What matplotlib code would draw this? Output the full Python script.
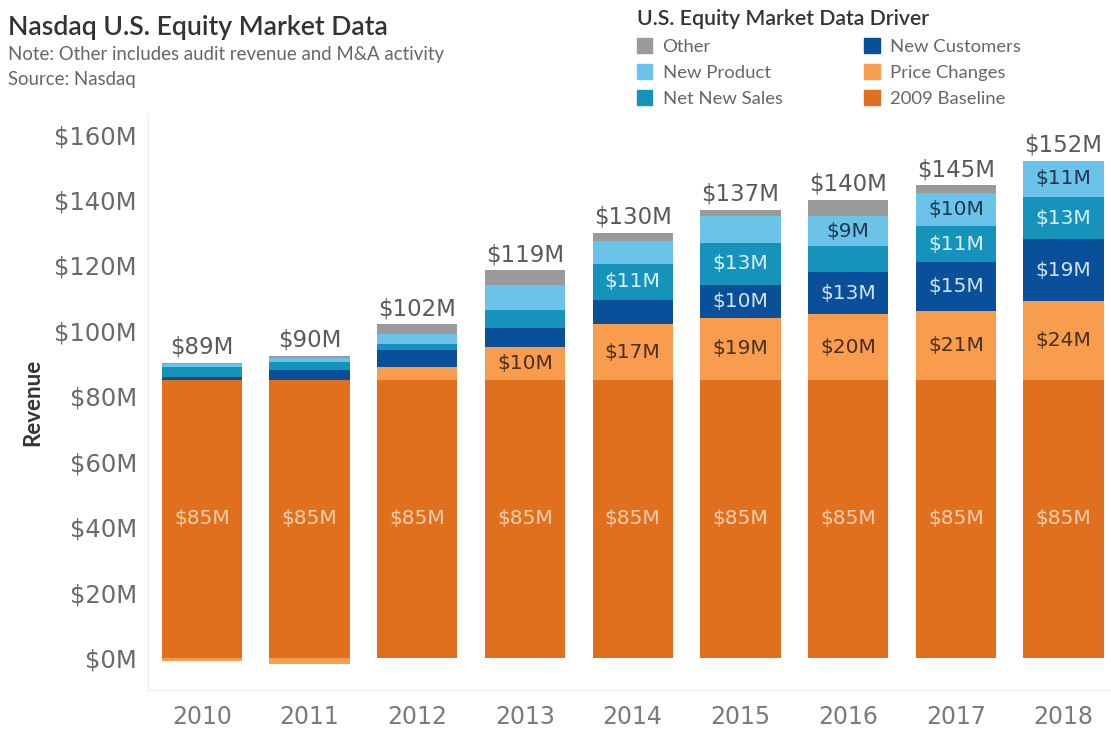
"""Nasdaq U.S. equity market data revenue, stacked by driver."""
import matplotlib
matplotlib.use("Agg")

import matplotlib.pyplot as plt
from matplotlib.patches import Patch

years = ["2010", "2011", "2012", "2013", "2014", "2015", "2016", "2017", "2018"]

# revenue by driver, $M
baseline = [85, 85, 85, 85, 85, 85, 85, 85, 85]
price_changes = [-1, -2, 4, 10, 17, 19, 20, 21, 24]
new_customers = [1, 3, 5, 6, 7.5, 10, 13, 15, 19]
net_new_sales = [3, 2.5, 2, 5.5, 11, 13, 8, 11, 13]
new_product = [1, 1.2, 3, 7.5, 7, 8, 9, 10, 11]
other = [0.3, 0.6, 3, 4.5, 2.5, 2, 5, 2.5, 0]

totals = ["$89M", "$90M", "$102M", "$119M", "$130M", "$137M", "$140M", "$145M", "$152M"]

# labels Tableau managed to fit inside the segments
baseline_lbl = ["$85M"] * 9
price_lbl = ["", "", "", "$10M", "$17M", "$19M", "$20M", "$21M", "$24M"]
customers_lbl = ["", "", "", "", "", "$10M", "$13M", "$15M", "$19M"]
sales_lbl = ["", "", "", "", "$11M", "$13M", "", "$11M", "$13M"]
product_lbl = ["", "", "", "", "", "", "$9M", "$10M", "$11M"]

C_BASE = "#E0701E"
C_PRICE = "#F89D4E"
C_CUST = "#0A4F9A"
C_SALES = "#1593BB"
C_PROD = "#6CC3EA"
C_OTHER = "#9A9A9A"

fig = plt.figure(figsize=(11.11, 7.3), dpi=100)
ax = fig.add_axes([0.1332, 0.0548, 0.8677, 0.7877])

x = range(len(years))
w = 0.745
LBL = 14.5

ax.bar(x, baseline, w, color=C_BASE)
# price changes go below zero where they were negative
pos_price = [max(p, 0) for p in price_changes]
price_bottom = [b if p > 0 else 0 for b, p in zip(baseline, price_changes)]
ax.bar(x, price_changes, w, bottom=price_bottom, color=C_PRICE)

bottom = [b + p for b, p in zip(baseline, pos_price)]
stack = [
    (new_customers, C_CUST, customers_lbl, "#D2E2F4"),
    (net_new_sales, C_SALES, sales_lbl, "#D6F2FB"),
    (new_product, C_PROD, product_lbl, "#1F3550"),
    (other, C_OTHER, None, None),
]

for i in x:
    ax.text(i, baseline[i] / 2, baseline_lbl[i], ha="center", va="center",
            fontsize=LBL, color="#F8CFAE")
    if price_lbl[i]:
        ax.text(i, baseline[i] + price_changes[i] / 2, price_lbl[i],
                ha="center", va="center", fontsize=LBL, color="#4A2E1C")

for vals, col, lbls, tcol in stack:
    ax.bar(x, vals, w, bottom=bottom, color=col)
    for i in x:
        if lbls and lbls[i]:
            ax.text(i, bottom[i] + vals[i] / 2, lbls[i], ha="center",
                    va="center", fontsize=LBL, color=tcol)
    bottom = [b + v for b, v in zip(bottom, vals)]

for i in x:
    ax.text(i, bottom[i] + 1.3, totals[i], ha="center", va="bottom",
            fontsize=16.5, color="#5A5A5A")

ax.set_xlim(-0.5, 8.45)
ax.set_ylim(-9.8, 166)
ax.set_xticks(list(x))
ax.set_xticklabels(years, fontsize=17, color="#7A7A7A")
ax.set_yticks(range(0, 161, 20))
ax.set_yticklabels([f"${v}M" for v in range(0, 161, 20)], fontsize=17.5,
                   color="#6A6A6A")
ax.tick_params(length=0, pad=8)
ax.tick_params(axis="x", pad=11)
ax.set_ylabel("Revenue", fontsize=16, fontweight="bold", color="#333333",
              labelpad=8, family="Lato")
ax.spines[["top", "right"]].set_visible(False)
ax.spines[["left", "bottom"]].set_color("#EDEDED")

fig.text(0.007, 0.963, "Nasdaq U.S. Equity Market Data", fontsize=19.2,
         family="Lato", fontweight="semibold", color="#333333", va="center")
fig.text(0.007, 0.925, "Note: Other includes audit revenue and M&A activity",
         fontsize=13.4, family="Lato", color="#666666", va="center")
fig.text(0.007, 0.891, "Source: Nasdaq", fontsize=13.4, family="Lato",
         color="#666666", va="center")

handles = [Patch(color=C_OTHER), Patch(color=C_PROD), Patch(color=C_SALES),
           Patch(color=C_CUST), Patch(color=C_PRICE), Patch(color=C_BASE)]
names = ["Other", "New Product", "Net New Sales",
         "New Customers", "Price Changes", "2009 Baseline"]
leg = fig.legend(handles, names, ncol=2, loc="upper left",
                 bbox_to_anchor=(0.5615, 1.006), frameon=False,
                 title="U.S. Equity Market Data Driver", alignment="left",
                 prop={"family": "Lato", "size": 13.3},
                 handlelength=0.85, handleheight=0.85, handletextpad=0.55,
                 labelspacing=0.5, columnspacing=4.4, borderpad=0.2)
leg.get_title().set_fontproperties({"family": "Lato", "size": 15.3,
                                    "weight": "semibold"})
leg.get_title().set_color("#333333")
for t in leg.get_texts():
    t.set_color("#666666")

fig.savefig("out.png", dpi=100, facecolor="white")
